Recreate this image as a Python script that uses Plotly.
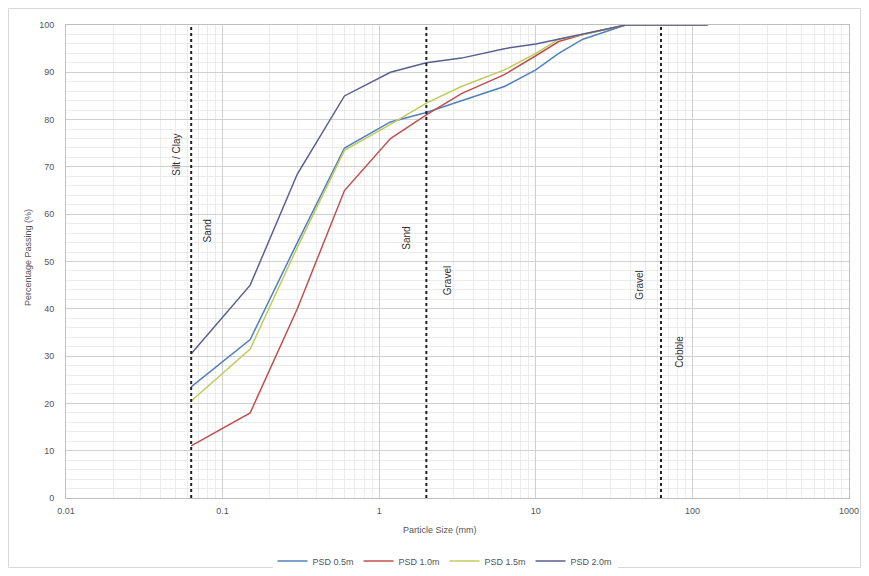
import plotly.graph_objects as go
import math

sizes = [0.063, 0.15, 0.3, 0.6, 1.18, 2, 3.35, 6.3, 10, 14, 20, 37.5, 63, 75, 125]
series_names = ["PSD 0.5m", "PSD 1.0m", "PSD 1.5m", "PSD 2.0m"]
psd_a = [23.5, 33.5, 54, 74, 79.5, 81.5, 84, 87, 90.5, 94, 97, 100, 100, 100, 100]
psd_b = [11, 18, 40, 65, 76, 81, 85.5, 89.5, 93.5, 96.5, 98, 100, 100, 100, 100]
psd_c = [20.5, 31.5, 53, 73.5, 79, 83.5, 87, 90.5, 94, 97, 98, 100, 100, 100, 100]
psd_d = [30.5, 45, 68.5, 85, 90, 92, 93, 95, 96, 97, 98, 100, 100, 100, 100]
colors = ["#4F81BD", "#C0504D", "#BFCB5A", "#5B5F8F"]

boundaries = [0.063, 2, 63]
left_labels = ["Silt / Clay", "Sand", "Gravel"]
left_label_y = [72.5, 55, 45]
left_shift = [-8, -12, -14]
right_labels = ["Sand", "Gravel", "Cobble"]
right_label_y = [56.5, 46, 31]
right_shift = [9, 14, 11]

x_tickvals = [0.01, 0.1, 1, 10, 100, 1000]
x_ticktext = ["0.01", "0.1", "1", "10", "100", "1000"]
y_tickvals = list(range(0, 101, 10))

# page offset (body margin) compensation
OFF = 8
W, H = 853, 560
L, R, T, B = 58, 12, 17, 70
PW, PH = W - L - R, H - T - B


def px(xpage):
    return (xpage - OFF - L) / PW


def py(ypage):
    return (T + PH - (ypage - OFF)) / PH


fig = go.Figure()
for name, vals, col in zip(series_names, [psd_a, psd_b, psd_c, psd_d], colors):
    fig.add_trace(go.Scatter(x=sizes, y=vals, mode="lines", name=name,
                             line=dict(color=col, width=1.5)))

for b in boundaries:
    fig.add_trace(go.Scatter(x=[b, b], y=[0, 100], mode="lines", showlegend=False,
                             hoverinfo="skip",
                             line=dict(color="#222222", width=2, dash="3px,3px")))

for b, t, yv, s in zip(boundaries, left_labels, left_label_y, left_shift):
    fig.add_annotation(x=math.log10(b), y=yv, text=t, textangle=-90, showarrow=False,
                       xanchor="right", xshift=s, font=dict(size=10, color="#333333"))
for b, t, yv, s in zip(boundaries, right_labels, right_label_y, right_shift):
    fig.add_annotation(x=math.log10(b), y=yv, text=t, textangle=-90, showarrow=False,
                       xanchor="left", xshift=s, font=dict(size=10, color="#333333"))

# axis titles
fig.add_annotation(xref="paper", yref="paper", x=px(440), y=py(530),
                   text="Particle Size (mm)", showarrow=False, yanchor="middle",
                   font=dict(size=9, color="#555555"))
fig.add_annotation(xref="paper", yref="paper", x=px(28), y=py(258),
                   text="Percentage Passing (%)", showarrow=False, textangle=-90,
                   xanchor="center", font=dict(size=9, color="#555555"))

fig.update_layout(
    width=W, height=H,
    margin=dict(l=L, r=R, t=T, b=B, autoexpand=False),
    paper_bgcolor="white", plot_bgcolor="white",
    font=dict(family="Liberation Sans, Arial, sans-serif", size=9, color="#555555"),
    legend=dict(orientation="h", x=px(445), xanchor="center",
                y=py(561), yanchor="middle",
                font=dict(size=9, color="#555555")),
    xaxis=dict(type="log", range=[-2, 3], tickvals=x_tickvals, ticktext=x_ticktext,
               showgrid=True, gridcolor="#D0D0D0", gridwidth=1,
               minor=dict(dtick="D1", showgrid=True, gridcolor="#ECECEC", gridwidth=1),
               showline=True, linecolor="#BFBFBF", mirror=True, zeroline=False,
               automargin=False, ticklabelstandoff=4, ticks="",
               ticklabeloverflow="allow"),
    yaxis=dict(range=[0, 100], tickvals=y_tickvals,
               showgrid=True, gridcolor="#D0D0D0", gridwidth=1,
               minor=dict(dtick=2, showgrid=True, gridcolor="#ECECEC", gridwidth=1),
               showline=True, linecolor="#BFBFBF", mirror=True, zeroline=False,
               automargin=False, ticklabelstandoff=9, ticks=""),
)
fig.add_shape(type="rect", xref="paper", yref="paper",
              x0=-(L - 0.5) / PW, x1=(W - 0.5 - L) / PW,
              y0=-(B - 0.5) / PH, y1=(PH + T - 0.5) / PH,
              line=dict(color="#D9D9D9", width=1), fillcolor="rgba(0,0,0,0)", layer="below")

fig.write_html("out.html")
